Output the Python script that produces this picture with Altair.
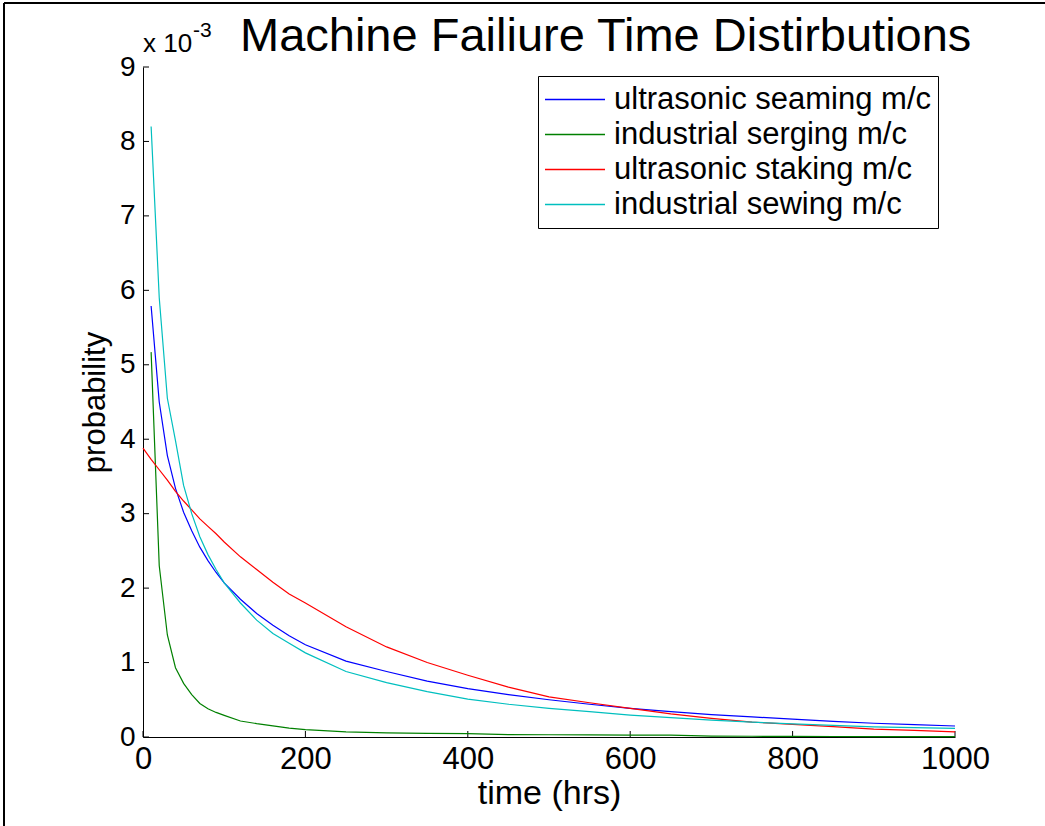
import altair as alt
import pandas as pd

# ---- data (probability values in units of 1e-3) ----
t_main = [10, 20, 30, 40, 50, 60, 70, 80, 90, 100, 120, 140, 160, 180, 200,
          250, 300, 350, 400, 450, 500, 550, 600, 650, 700, 750, 800, 850,
          900, 950, 1000]
t_staking = [0] + t_main

seaming = [5.79, 4.50, 3.78, 3.34, 3.02, 2.77, 2.55, 2.37, 2.21, 2.07, 1.85,
           1.66, 1.50, 1.36, 1.24, 1.02, 0.88, 0.75, 0.65, 0.57, 0.50, 0.44,
           0.385, 0.34, 0.30, 0.27, 0.24, 0.21, 0.185, 0.165, 0.148]
serging = [5.17, 2.30, 1.37, 0.93, 0.72, 0.57, 0.45, 0.38, 0.33, 0.29, 0.215,
           0.18, 0.15, 0.12, 0.10, 0.07, 0.056, 0.05, 0.045, 0.033, 0.03,
           0.028, 0.026, 0.024, 0.012, 0.01, 0.008, 0.007, 0.006, 0.005, 0.005]
staking = [3.88, 3.73, 3.59, 3.45, 3.30, 3.17, 3.05, 2.93, 2.83, 2.73, 2.62,
           2.42, 2.25, 2.08, 1.92, 1.80, 1.48, 1.21, 1.00, 0.83, 0.67, 0.54,
           0.46, 0.385, 0.31, 0.25, 0.20, 0.17, 0.14, 0.107, 0.09, 0.07]
sewing = [8.20, 5.90, 4.55, 3.98, 3.38, 3.00, 2.69, 2.45, 2.25, 2.07, 1.80,
          1.57, 1.39, 1.26, 1.13, 0.88, 0.73, 0.61, 0.51, 0.44, 0.385, 0.34,
          0.295, 0.26, 0.228, 0.20, 0.175, 0.155, 0.135, 0.125, 0.117]

names = ["ultrasonic seaming m/c", "industrial serging m/c",
         "ultrasonic staking m/c", "industrial sewing m/c"]
colors = ["#0000ff", "#008000", "#ff0000", "#00bfbf"]

x_ticks = [0, 200, 400, 600, 800, 1000]
y_ticks = [0, 1, 2, 3, 4, 5, 6, 7, 8, 9]

title_text = "Machine Failiure Time Distirbutions"

# ---- build table ----
rows = []
for name, ts, vals in [(names[0], t_main, seaming), (names[1], t_main, serging),
                       (names[2], t_staking, staking), (names[3], t_main, sewing)]:
    for t, v in zip(ts, vals):
        rows.append({"t": t, "p": v, "machine": name})
df = pd.DataFrame(rows)

W, H = 812, 670
FONT = "Liberation Sans"

xscale = alt.Scale(domain=[0, 1000], nice=False, zero=False)
yscale = alt.Scale(domain=[0, 9], nice=False)

x_axis = alt.Axis(values=x_ticks, title="time (hrs)", grid=False, format="d",
                  tickSize=0, labelPadding=7, titlePadding=2,
                  labelFontSize=31, titleFontSize=34, labelFlush=False)
y_axis = alt.Axis(values=y_ticks, title="probability", grid=False, format="d",
                  tickSize=0, labelPadding=8, titlePadding=8,
                  labelFontSize=28, titleFontSize=31, labelFlush=False)

lines = alt.Chart(df).mark_line(strokeWidth=1.2).encode(
    x=alt.X("t:Q", scale=xscale, axis=x_axis),
    y=alt.Y("p:Q", scale=yscale, axis=y_axis),
    color=alt.Color("machine:N",
                    scale=alt.Scale(domain=names, range=colors),
                    sort=names,
                    legend=alt.Legend(
                        orient="none", legendX=395, legendY=9, title=None,
                        strokeColor="black", fillColor="white", padding=6,
                        symbolType="stroke", symbolSize=3600,
                        symbolStrokeWidth=1.3, clipHeight=35, rowPadding=0,
                        labelFontSize=31, labelFont=FONT, labelColor="black",
                        labelOffset=8, labelLimit=600, cornerRadius=0)),
)

xt_df = pd.DataFrame({"t": x_ticks})
yt_df = pd.DataFrame({"p": y_ticks})

x_tick_marks = alt.Chart(xt_df).mark_rule(color="black", strokeWidth=1).encode(
    x=alt.X("t:Q", scale=xscale, axis=x_axis),
    y=alt.value(H), y2=alt.value(H - 6))
y_tick_marks = alt.Chart(yt_df).mark_rule(color="black", strokeWidth=1).encode(
    y=alt.Y("p:Q", scale=yscale, axis=y_axis),
    x=alt.value(0), x2=alt.value(6))

label_df = pd.DataFrame({"txt": [title_text]})
title_mark = alt.Chart(label_df).mark_text(
    font=FONT, fontSize=47, align="left", baseline="alphabetic", color="black"
).encode(text="txt:N", x=alt.value(97), y=alt.value(-16))

exp_df = pd.DataFrame({"a": ["x 10"], "b": ["-3"]})
exp_base = alt.Chart(exp_df).mark_text(
    font=FONT, fontSize=26, align="left", baseline="alphabetic", color="black"
).encode(text="a:N", x=alt.value(0), y=alt.value(-15))
exp_sup = alt.Chart(exp_df).mark_text(
    font=FONT, fontSize=21, align="left", baseline="alphabetic", color="black"
).encode(text="b:N", x=alt.value(50), y=alt.value(-30))

frame_top = alt.Chart(label_df).mark_rule(color="black", strokeWidth=2).encode(
    x=alt.value(-139), x2=alt.value(902), y=alt.value(-64))
frame_left = alt.Chart(label_df).mark_rule(color="black", strokeWidth=2).encode(
    x=alt.value(-139), y=alt.value(-64), y2=alt.value(759))

chart = alt.layer(
    frame_top, frame_left, x_tick_marks, y_tick_marks, lines,
    title_mark, exp_base, exp_sup
).properties(
    width=W, height=H,
    padding={"left": 143, "top": 67, "right": 90, "bottom": 89},
    autosize=alt.AutoSizeParams(type="none"),
    background="white",
).configure_view(stroke=None).configure_axis(
    domainColor="black", domainWidth=1, labelColor="black",
    titleColor="black", labelFont=FONT, titleFont=FONT,
    titleFontWeight="normal",
)

chart.save("out.html", embed_options={"renderer": "svg", "actions": False})
